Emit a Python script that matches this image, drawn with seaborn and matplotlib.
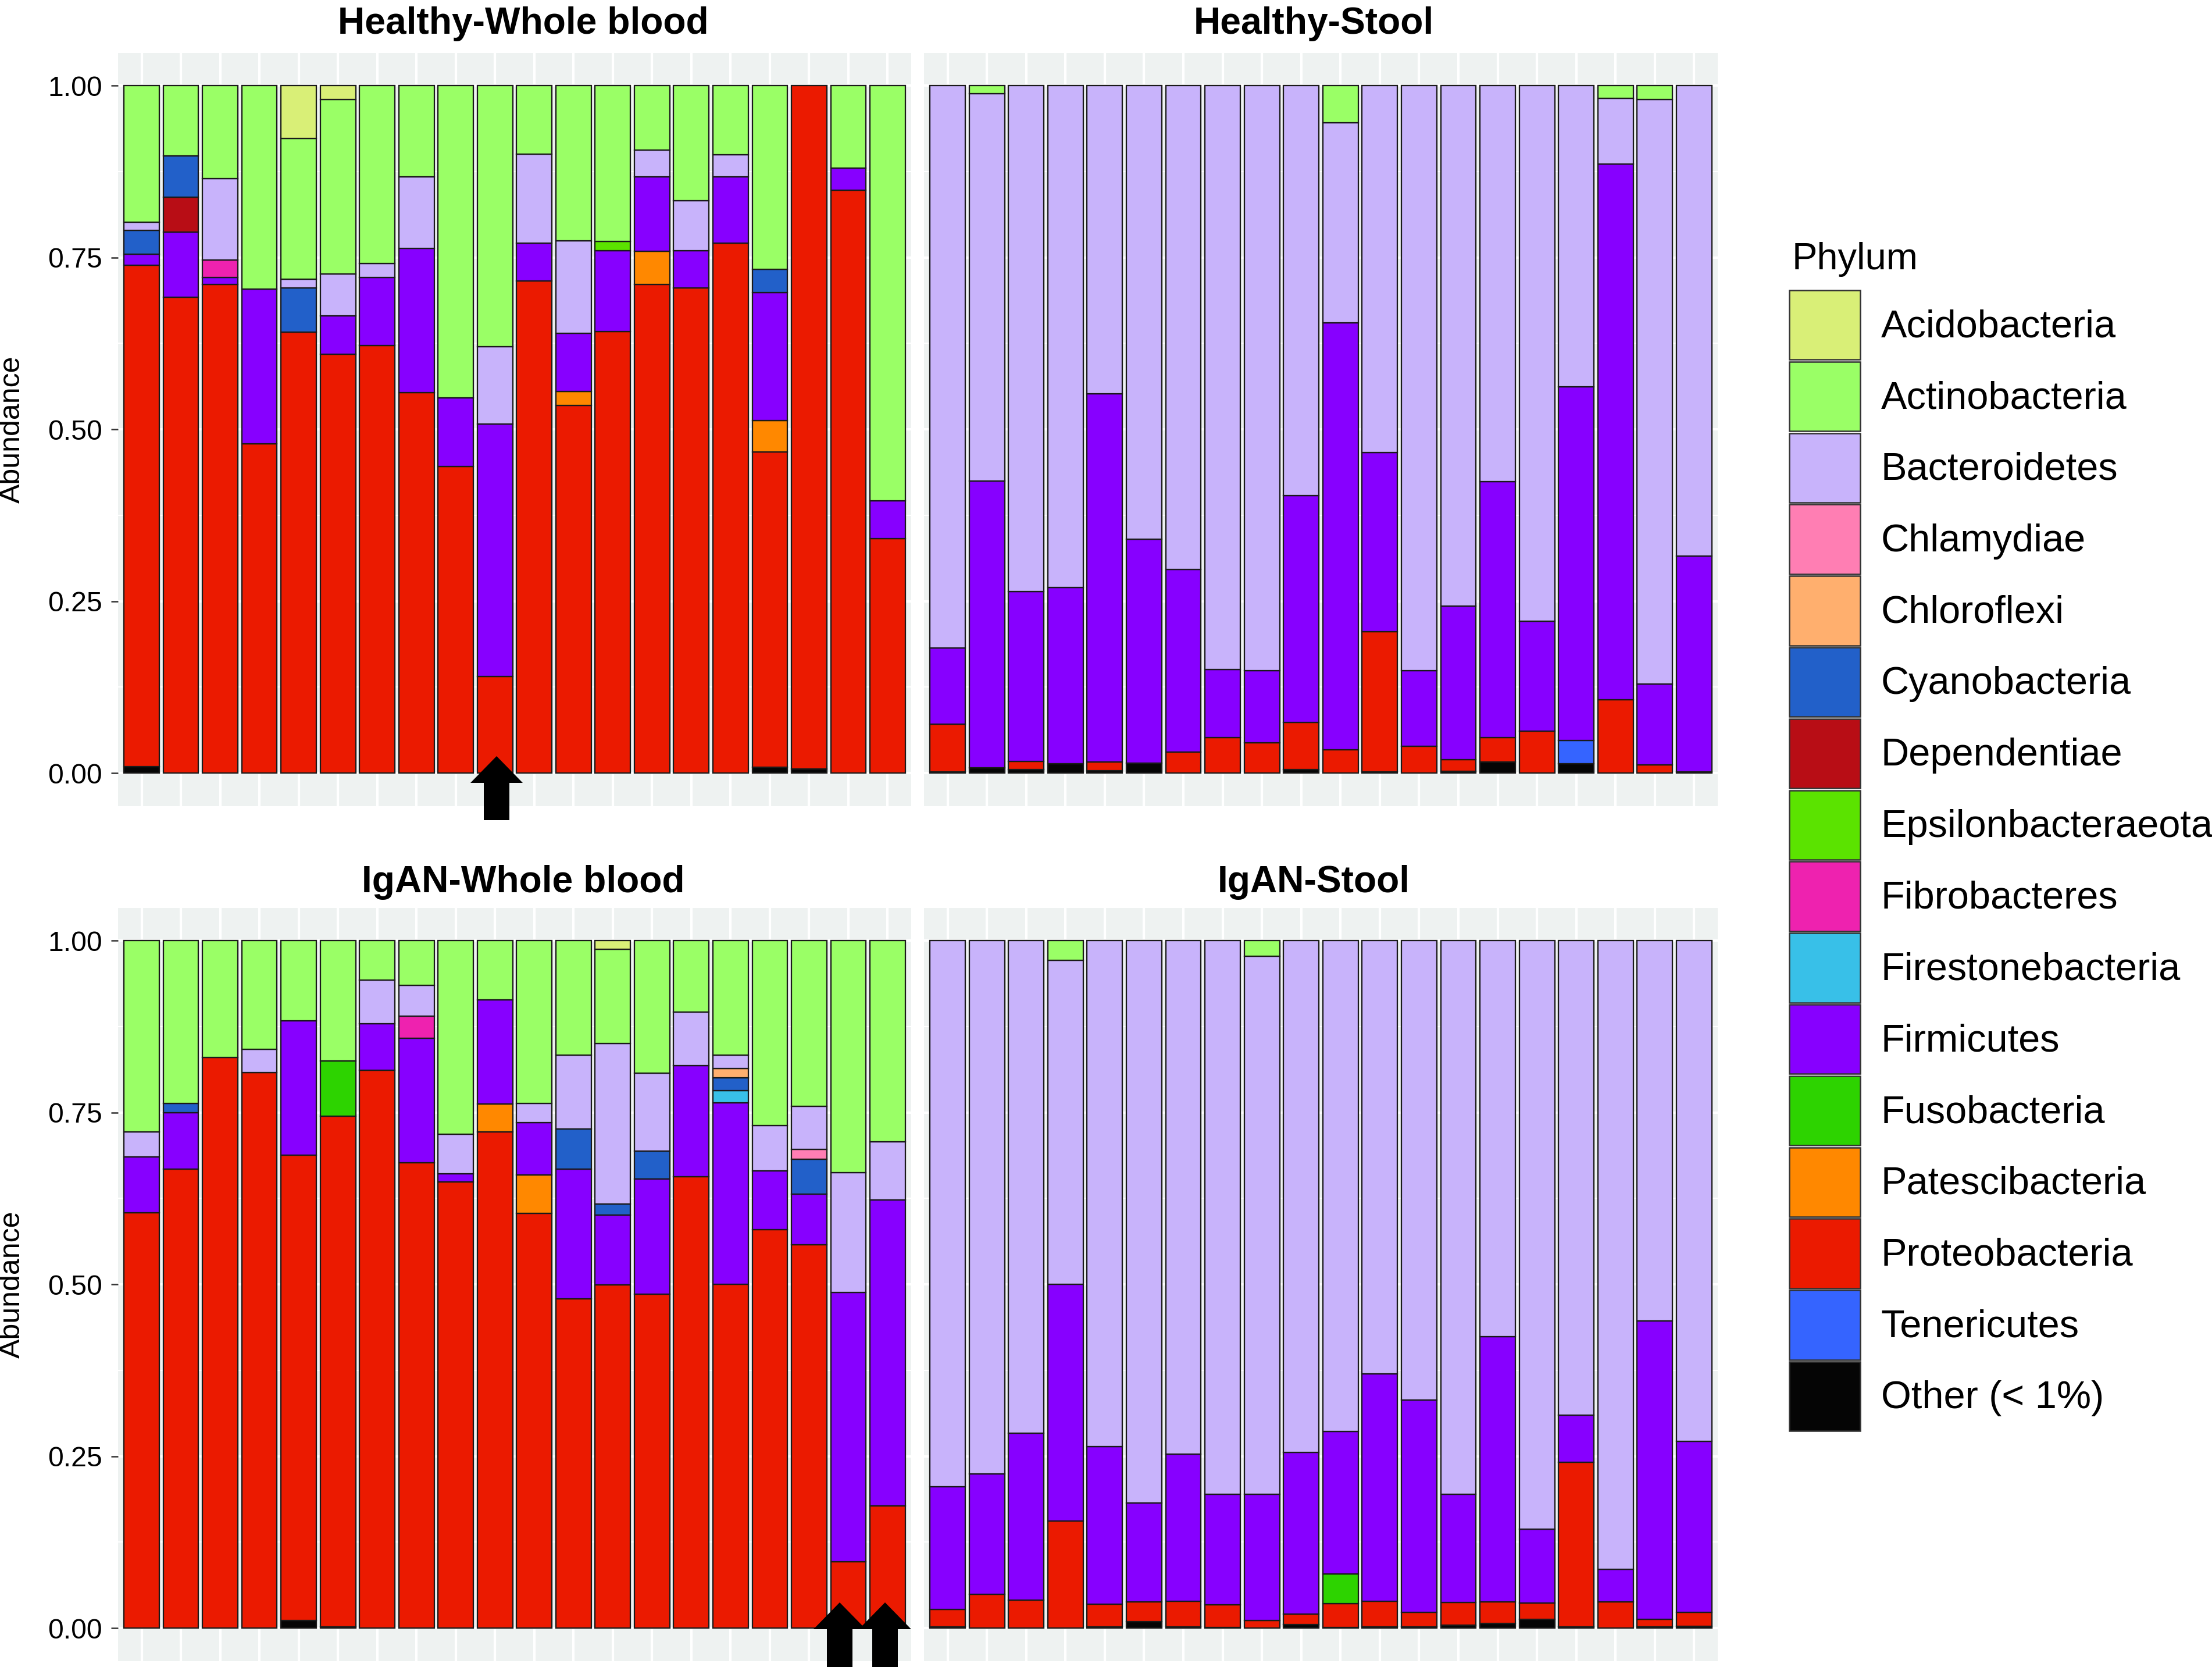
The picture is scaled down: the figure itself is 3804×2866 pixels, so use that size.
import numpy as np
import pandas as pd
import seaborn as sns
import matplotlib.pyplot as plt
from matplotlib.patches import Patch, Polygon

phyla = ['Acidobacteria', 'Actinobacteria', 'Bacteroidetes', 'Chlamydiae', 'Chloroflexi',
         'Cyanobacteria', 'Dependentiae', 'Epsilonbacteraeota', 'Fibrobacteres',
         'Firestonebacteria', 'Firmicutes', 'Fusobacteria', 'Patescibacteria',
         'Proteobacteria', 'Tenericutes', 'Other (< 1%)']
phylum_colors = ['#D9EF77', '#9AFF66', '#C8B3FB', '#FF7EB3', '#FFAF6E', '#2260C9', '#B80D15',
                 '#5BE300', '#EE22AF', '#38C0E8', '#8700FF', '#2DD300', '#FF8800', '#EB1A00',
                 '#3564FF', '#050505']
samples = list(range(1, 21))

# Healthy-Whole blood
hwb_other = [.0095, 0, 0, 0, 0, 0, 0, 0, 0, 0, 0, 0, 0, 0, 0, 0, .009, .0065, 0, 0]
hwb_proteo = [.7295, .692, .711, .479, .641, .609, .622, .553, .446, .141, .716, .535, .642, .711,
              .706, .771, .458, .9935, .848, .341]
hwb_patesc = [0, 0, 0, 0, 0, 0, 0, 0, 0, 0, 0, .020, 0, .048, 0, 0, .046, 0, 0, 0]
hwb_firm = [.0155, .095, .010, .225, 0, .056, .099, .210, .0995, .367, .055, .0845, .118, .108,
            .054, .096, .1855, 0, .032, .055]
hwb_fibro = [0, 0, .0255, 0, 0, 0, 0, 0, 0, 0, 0, 0, 0, 0, 0, 0, 0, 0, 0, 0]
hwb_epsilon = [0, 0, 0, 0, 0, 0, 0, 0, 0, 0, 0, 0, .013, 0, 0, 0, 0, 0, 0, 0]
hwb_depend = [0, .051, 0, 0, 0, 0, 0, 0, 0, 0, 0, 0, 0, 0, 0, 0, 0, 0, 0, 0]
hwb_cyano = [.035, .060, 0, 0, .065, 0, 0, 0, 0, 0, 0, 0, 0, 0, 0, 0, .0345, 0, 0, 0]
hwb_bact = [.0115, 0, .118, 0, .012, .061, .020, .104, 0, .1125, .129, .1345, 0, .039, .0725,
            .0325, 0, 0, 0, 0]
hwb_actino = [.199, .102, .1355, .296, .205, .254, .259, .133, .4545, .3795, .100, .226, .227, .094,
              .1675, .1005, .267, 0, .120, .604]
hwb_acido = [0, 0, 0, 0, .077, .020, 0, 0, 0, 0, 0, 0, 0, 0, 0, 0, 0, 0, 0, 0]

# Healthy-Stool
hs_other = [.002, .008, .005, .014, .004, .015, 0, 0, 0, .005, 0, .002, 0, .003, .016, 0, .014, 0, 0, .0015]
hs_teneri = [0, 0, 0, 0, 0, 0, 0, 0, 0, 0, 0, 0, 0, 0, 0, 0, .034, 0, 0, 0]
hs_proteo = [.069, 0, .012, 0, .012, 0, .031, .052, .044, .069, .034, .204, .039, .017, .036, .061,
             0, .107, .012, 0]
hs_firm = [.111, .417, .247, .256, .536, .325, .265, .099, .105, .330, .621, .260, .110, .223, .372,
           .160, .5135, .779, .118, .3145]
hs_bact = [.818, .563, .736, .730, .448, .660, .704, .849, .851, .5965, .291, .534, .851, .757, .576,
           .779, .4385, .095, .850, .684]
hs_actino = [0, .012, 0, 0, 0, 0, 0, 0, 0, 0, .054, 0, 0, 0, 0, 0, 0, .019, .020, 0]

# IgAN-Whole blood
iwb_other = [0, 0, 0, 0, .011, .0015, 0, 0, 0, 0, 0, 0, 0, 0, 0, 0, 0, 0, 0, 0]
iwb_proteo = [.604, .668, .830, .808, .6765, .7435, .811, .677, .649, .722, .603, .479, .499, .486,
              .657, .500, .580, .558, .0965, .178]
iwb_patesc = [0, 0, 0, 0, 0, 0, 0, 0, 0, .040, .0565, 0, 0, 0, 0, 0, 0, 0, 0, 0]
iwb_fuso = [0, 0, 0, 0, 0, .080, 0, 0, 0, 0, 0, 0, 0, 0, 0, 0, 0, 0, 0, 0]
iwb_firm = [.081, .082, 0, 0, .1955, 0, .068, .181, .012, .152, .076, .189, .102, .167, .161, .264,
            .085, .073, .3915, .445]
iwb_firestone = [0, 0, 0, 0, 0, 0, 0, 0, 0, 0, 0, 0, 0, 0, 0, .018, 0, 0, 0, 0]
iwb_fibro = [0, 0, 0, 0, 0, 0, 0, .032, 0, 0, 0, 0, 0, 0, 0, 0, 0, 0, 0, 0]
iwb_cyano = [0, .013, 0, 0, 0, 0, 0, 0, 0, 0, 0, .058, .016, .041, 0, .018, 0, .051, 0, 0]
iwb_chloro = [0, 0, 0, 0, 0, 0, 0, 0, 0, 0, 0, 0, 0, 0, 0, .014, 0, 0, 0, 0]
iwb_chlamy = [0, 0, 0, 0, 0, 0, 0, 0, 0, 0, 0, 0, 0, 0, 0, 0, 0, .014, 0, 0]
iwb_bact = [.0365, 0, 0, .034, 0, 0, .0635, .045, .057, 0, .0275, .107, .233, .113, .078, .019, .066,
            .063, .1745, .084]
iwb_actino = [.2785, .237, .170, .158, .117, .175, .0575, .065, .282, .086, .237, .167, .137, .193,
              .104, .167, .269, .241, .3375, .293]
iwb_acido = [0, 0, 0, 0, 0, 0, 0, 0, 0, 0, 0, 0, .013, 0, 0, 0, 0, 0, 0, 0]

# IgAN-Stool
is_other = [.0015, 0, 0, 0, .002, .0096, .002, .001, 0, .005, .001, .002, .002, .0044, .0066, .013,
            .002, 0, .0015, .003]
is_proteo = [.0255, .049, .041, .1555, .033, .029, .037, .033, .011, .0156, .035, .037, .021, .033,
             .0314, .024, .239, .038, .011, .020]
is_fuso = [0, 0, 0, 0, 0, 0, 0, 0, 0, 0, .043, 0, 0, 0, 0, 0, 0, 0, 0, 0]
is_firm = [.179, .175, .243, .3445, .229, .143, .214, .161, .1835, .235, .207, .331, .309, .1574, .386,
           .107, .069, .0475, .434, .249]
is_bact = [.794, .776, .716, .471, .736, .818, .747, .805, .7825, .744, .714, .630, .668, .805, .576,
           .856, .690, .9145, .5534, .728]
is_actino = [0, 0, 0, .029, 0, 0, 0, 0, .023, 0, 0, 0, 0, 0, 0, 0, 0, 0, 0, 0]

panel_titles = ['Healthy-Whole blood', 'Healthy-Stool', 'IgAN-Whole blood', 'IgAN-Stool']
panel_data = [
    {'Other (< 1%)': hwb_other, 'Proteobacteria': hwb_proteo, 'Patescibacteria': hwb_patesc,
     'Firmicutes': hwb_firm, 'Fibrobacteres': hwb_fibro, 'Epsilonbacteraeota': hwb_epsilon,
     'Dependentiae': hwb_depend, 'Cyanobacteria': hwb_cyano, 'Bacteroidetes': hwb_bact,
     'Actinobacteria': hwb_actino, 'Acidobacteria': hwb_acido},
    {'Other (< 1%)': hs_other, 'Tenericutes': hs_teneri, 'Proteobacteria': hs_proteo,
     'Firmicutes': hs_firm, 'Bacteroidetes': hs_bact, 'Actinobacteria': hs_actino},
    {'Other (< 1%)': iwb_other, 'Proteobacteria': iwb_proteo, 'Patescibacteria': iwb_patesc,
     'Fusobacteria': iwb_fuso, 'Firmicutes': iwb_firm, 'Firestonebacteria': iwb_firestone,
     'Fibrobacteres': iwb_fibro, 'Cyanobacteria': iwb_cyano, 'Chloroflexi': iwb_chloro,
     'Chlamydiae': iwb_chlamy, 'Bacteroidetes': iwb_bact, 'Actinobacteria': iwb_actino,
     'Acidobacteria': iwb_acido},
    {'Other (< 1%)': is_other, 'Proteobacteria': is_proteo, 'Fusobacteria': is_fuso,
     'Firmicutes': is_firm, 'Bacteroidetes': is_bact, 'Actinobacteria': is_actino},
]

FIG_W, FIG_H = 3804, 2866
panel_boxes = [(203, 91, 1364, 1295), (1589, 91, 1365, 1295),
               (203, 1561, 1364, 1295), (1589, 1561, 1365, 1295)]
title_x = [0.511, 0.491, 0.511, 0.491]

sns.set_theme(style='white')
plt.rcParams['font.family'] = ['Liberation Sans', 'DejaVu Sans']
palette = dict(zip(phyla, phylum_colors))

fig = plt.figure(figsize=(FIG_W / 300, FIG_H / 300), dpi=300)

for i, (title, data) in enumerate(zip(panel_titles, panel_data)):
    x0, y0, w, h = panel_boxes[i]
    ax = fig.add_axes([x0 / FIG_W, 1 - (y0 + h) / FIG_H, w / FIG_W, h / FIG_H])

    df = pd.DataFrame(data, index=samples).rename_axis('sample').reset_index()
    df = df.melt(id_vars='sample', var_name='Phylum', value_name='Abundance')
    df = df[df.Abundance > 0]
    # relative abundance, every bar closes at 1
    df['Abundance'] = df.Abundance / df.groupby('sample').Abundance.transform('sum')
    order = [p for p in phyla if p in set(df.Phylum)]

    sns.histplot(data=df, x='sample', hue='Phylum', weights='Abundance', multiple='stack',
                 hue_order=order, palette=palette, discrete=True, shrink=0.9, alpha=1,
                 edgecolor='#1a1a1a', linewidth=0.55, legend=False, ax=ax)
    for bar in ax.patches:
        if bar.get_height() == 0:
            bar.set_visible(False)

    ax.set_facecolor('#EEF2F1')
    ax.set_xlim(0.4, 20.6)
    ax.set_ylim(-0.048, 1.0474)
    ax.set_axisbelow(True)
    ax.set_xticks(samples)
    ax.set_yticks([0, 0.25, 0.5, 0.75, 1.0])
    ax.set_yticks([0.125, 0.375, 0.625, 0.875], minor=True)
    ax.grid(True, which='major', color='white', linewidth=1.0)
    ax.grid(True, which='minor', axis='y', color='white', linewidth=0.5)
    ax.tick_params(axis='x', which='both', length=0, labelbottom=False)
    ax.tick_params(axis='y', which='minor', length=0)
    if i % 2 == 0:
        ax.set_yticklabels(['0.00', '0.25', '0.50', '0.75', '1.00'])
        ax.tick_params(axis='y', which='major', length=2.9, width=0.6, color='#333333',
                       labelsize=11.6, pad=3.6, labelcolor='black', left=True)
        ax.set_ylabel('Abundance', fontsize=12, color='black')
        ax.yaxis.set_label_coords(-0.117, 0.5)
    else:
        ax.tick_params(axis='y', which='both', length=0, labelleft=False)
        ax.set_ylabel('')
    ax.set_xlabel('')
    sns.despine(ax=ax, left=True, bottom=True)
    ax.set_title(title, x=title_x[i], fontsize=15.4, fontweight='bold', color='black',
                 pad=8 if i < 2 else 6.5)

handles = [Patch(facecolor=c, edgecolor='#333333', linewidth=0.6, label=p)
           for p, c in zip(phyla, phylum_colors)]
fig.legend(handles=handles, loc='upper left', bbox_to_anchor=(3077 / FIG_W, 1 - 499 / FIG_H),
           frameon=False, fontsize=16, handlelength=1.83, handleheight=2.38, labelspacing=0.05,
           handletextpad=0.54, borderpad=0, borderaxespad=0, labelcolor='black')
fig.text(3082 / FIG_W, 1 - 463 / FIG_H, 'Phylum', fontsize=15.6, color='black',
         ha='left', va='baseline')

# arrows marking the samples of interest, tip x, tip y, tail y in pixels
arrow_spots = [(854, 1300, 1410), (1444, 2755, 2866), (1522, 2755, 2866)]
for tip_x, tip_y, tail_y in arrow_spots:
    head_y = tip_y + 46
    pts = [(tip_x, tip_y), (tip_x + 45, head_y), (tip_x + 22, head_y), (tip_x + 22, tail_y),
           (tip_x - 22, tail_y), (tip_x - 22, head_y), (tip_x - 45, head_y)]
    pts = [(px / FIG_W, 1 - py / FIG_H) for px, py in pts]
    fig.add_artist(Polygon(pts, closed=True, facecolor='black', edgecolor='none',
                           transform=fig.transFigure, zorder=10))

fig.savefig('out.png', dpi=300)
